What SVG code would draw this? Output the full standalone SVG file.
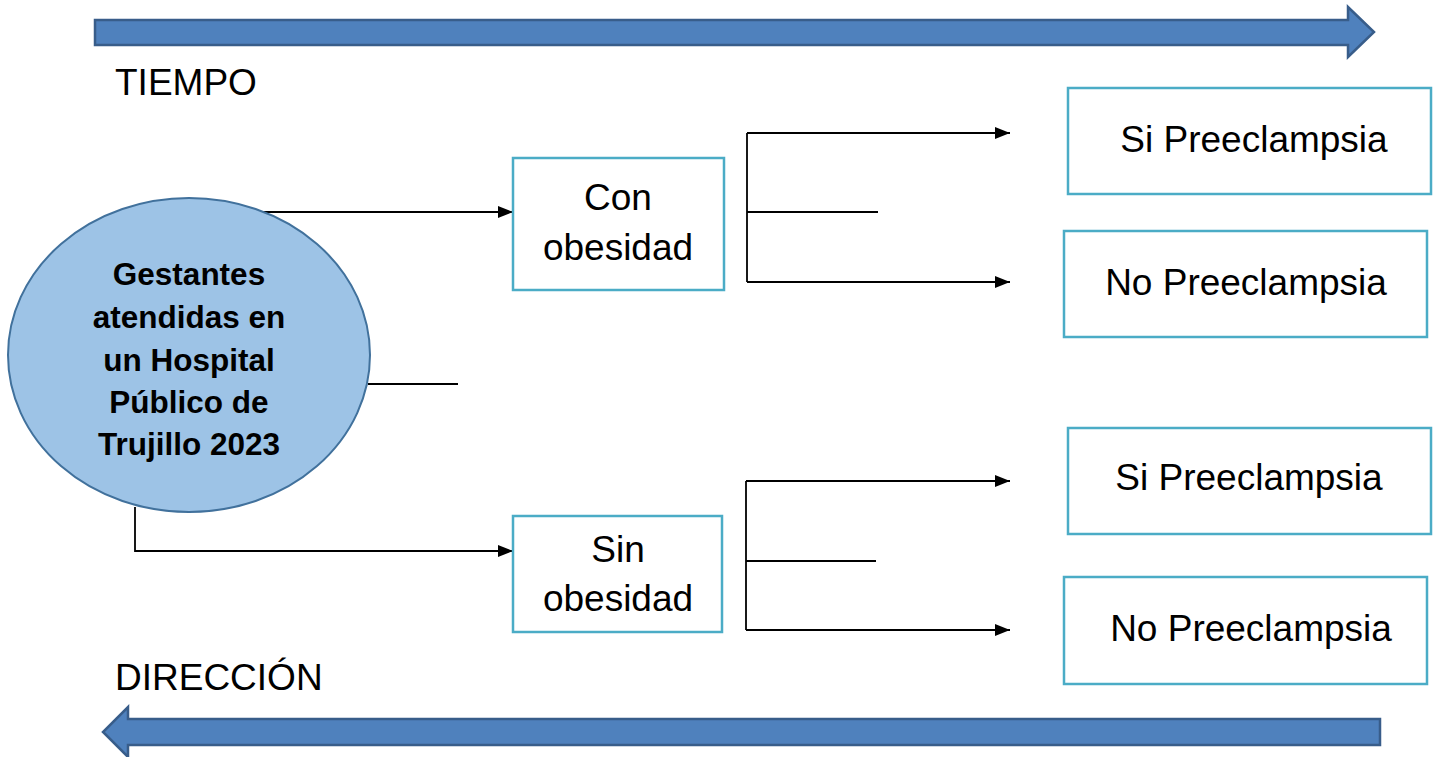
<svg xmlns="http://www.w3.org/2000/svg" width="1439" height="757" viewBox="0 0 1439 757">
<style>
.big{fill:#4F81BD;stroke:#385D8A;stroke-width:2.5;stroke-linejoin:miter}
.box{fill:#fff;stroke:#4BACC6;stroke-width:2.5}
.t{font-family:"Liberation Sans",Arial,sans-serif;font-size:37px;fill:#000;text-anchor:middle}
.lbl{font-family:"Liberation Sans",Arial,sans-serif;font-size:37px;fill:#000}
.b{font-family:"Liberation Sans",Arial,sans-serif;font-size:31.5px;font-weight:bold;fill:#000;text-anchor:middle}
.ln{fill:none;stroke:#000;stroke-width:1.8}
</style>
<defs>
<marker id="ah" markerWidth="15" markerHeight="12" refX="15" refY="6" orient="auto" markerUnits="userSpaceOnUse">
<path d="M0,0 L15,6 L0,12 Z" fill="#000"/>
</marker>
</defs>
<rect width="1439" height="757" fill="#fff"/>
<g id="tiempo-arrow">
<path class="big" d="M95,20 L1348,20 L1348,7 L1374,32 L1348,57 L1348,45 L95,45 Z"/>
<text class="lbl" x="115" y="95">TIEMPO</text>
</g>
<g id="direccion-arrow">
<path class="big" d="M1380,719 L128,719 L128,707 L103,732 L128,757 L128,745 L1380,745 Z"/>
<text class="lbl" x="115" y="690">DIRECCIÓN</text>
</g>
<g id="connectors">
<path class="ln" d="M262,212 L513,212" marker-end="url(#ah)"/>
<path class="ln" d="M368,384 L458,384"/>
<path class="ln" d="M135,507 L135,551 L513,551" marker-end="url(#ah)"/>
<path class="ln" d="M747,133 L747,282"/>
<path class="ln" d="M747,133 L1010,133" marker-end="url(#ah)"/>
<path class="ln" d="M747,212 L878,212"/>
<path class="ln" d="M747,282 L1010,282" marker-end="url(#ah)"/>
<path class="ln" d="M746,481 L746,630"/>
<path class="ln" d="M746,481 L1010,481" marker-end="url(#ah)"/>
<path class="ln" d="M746,561 L876,561"/>
<path class="ln" d="M746,630 L1010,630" marker-end="url(#ah)"/>
</g>
<g id="gestantes">
<ellipse cx="189" cy="355" rx="181" ry="157" fill="#9DC3E6" stroke="#41719C" stroke-width="2"/>
<text class="b" x="189" y="285">Gestantes</text>
<text class="b" x="189" y="328">atendidas en</text>
<text class="b" x="189" y="371">un Hospital</text>
<text class="b" x="189" y="413">Público de</text>
<text class="b" x="189" y="455">Trujillo 2023</text>
</g>
<g id="con-obesidad">
<rect class="box" x="513" y="158" width="211" height="132"/>
<text class="t" x="618" y="210">Con</text>
<text class="t" x="618" y="260">obesidad</text>
</g>
<g id="sin-obesidad">
<rect class="box" x="513" y="516" width="209" height="116"/>
<text class="t" x="618" y="562">Sin</text>
<text class="t" x="618" y="611">obesidad</text>
</g>
<g id="si-pre-1">
<rect class="box" x="1068" y="88" width="363" height="106"/>
<text class="t" x="1254" y="152">Si Preeclampsia</text>
</g>
<g id="no-pre-1">
<rect class="box" x="1064" y="231" width="363" height="106"/>
<text class="t" x="1246" y="295">No Preeclampsia</text>
</g>
<g id="si-pre-2">
<rect class="box" x="1068" y="428" width="363" height="106"/>
<text class="t" x="1249" y="490">Si Preeclampsia</text>
</g>
<g id="no-pre-2">
<rect class="box" x="1064" y="577" width="363" height="107"/>
<text class="t" x="1251" y="641">No Preeclampsia</text>
</g>
</svg>
